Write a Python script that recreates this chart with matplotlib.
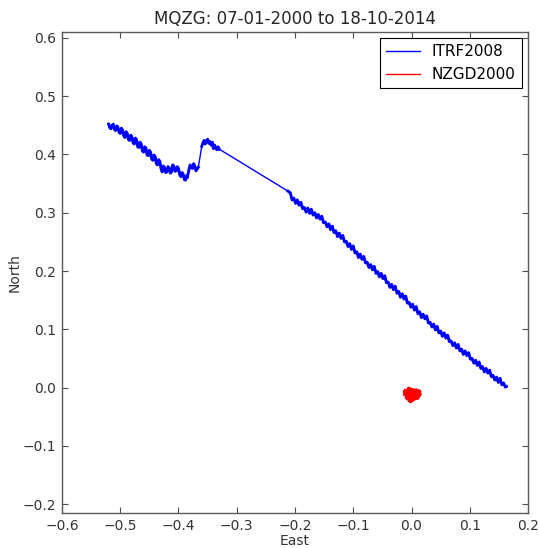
import matplotlib
matplotlib.use("Agg")
import matplotlib.pyplot as plt

title = "MQZG: 07-01-2000 to 18-10-2014"
itrf_label = "ITRF2008"
nzgd_label = "NZGD2000"

# ITRF2008 track (East, North)
itrf_east = [
    -0.520, -0.518, -0.516, -0.514, -0.512, -0.510, -0.508, -0.506, -0.504, -0.502,
    -0.500, -0.498, -0.496, -0.494, -0.492, -0.490, -0.488, -0.486, -0.484, -0.482,
    -0.480, -0.478, -0.476, -0.474, -0.472, -0.470, -0.468, -0.466, -0.464, -0.462,
    -0.460, -0.458, -0.456, -0.454, -0.452, -0.450, -0.448, -0.446, -0.444, -0.442,
    -0.440, -0.438, -0.436, -0.434, -0.432, -0.430, -0.428, -0.426, -0.424, -0.422,
    -0.420, -0.418, -0.416, -0.414, -0.412, -0.410, -0.408, -0.406, -0.404, -0.402,
    -0.400, -0.398, -0.396, -0.394, -0.392, -0.390, -0.388, -0.386, -0.385,
    -0.382, -0.380, -0.378, -0.376, -0.374, -0.372, -0.370, -0.368, -0.366,
    -0.360, -0.358, -0.356, -0.354, -0.352, -0.350, -0.348, -0.346, -0.344, -0.342,
    -0.340, -0.338, -0.336, -0.334, -0.332, -0.330,
    -0.212,
    -0.208, -0.205, -0.202, -0.199, -0.196, -0.193, -0.190, -0.187, -0.184, -0.181,
    -0.178, -0.175, -0.172, -0.169, -0.166, -0.163, -0.160, -0.157, -0.154, -0.151,
    -0.148, -0.145, -0.142, -0.139, -0.136, -0.133, -0.130, -0.127, -0.124, -0.121,
    -0.118, -0.115, -0.112, -0.109, -0.106, -0.103, -0.100, -0.097, -0.094, -0.091,
    -0.088, -0.085, -0.082, -0.079, -0.076, -0.073, -0.070, -0.067, -0.064, -0.061,
    -0.058, -0.055, -0.052, -0.049, -0.046, -0.043, -0.040, -0.037, -0.034, -0.031,
    -0.028, -0.025, -0.022, -0.019, -0.016, -0.013, -0.010, -0.007, -0.004, -0.001,
    0.002, 0.005, 0.008, 0.011, 0.014, 0.017, 0.020, 0.023, 0.026, 0.029,
    0.032, 0.035, 0.038, 0.041, 0.044, 0.047, 0.050, 0.053, 0.056, 0.059,
    0.062, 0.065, 0.068, 0.071, 0.074, 0.077, 0.080, 0.083, 0.086, 0.089,
    0.092, 0.095, 0.098, 0.101, 0.104, 0.107, 0.110, 0.113, 0.116, 0.119,
    0.122, 0.125, 0.128, 0.131, 0.134, 0.137, 0.140, 0.143, 0.146, 0.149,
    0.152, 0.155, 0.158, 0.161, 0.163,
]
itrf_north = [
    0.452, 0.446, 0.444, 0.450, 0.452, 0.443, 0.441, 0.449, 0.447, 0.438,
    0.436, 0.445, 0.442, 0.432, 0.429, 0.439, 0.436, 0.426, 0.424, 0.433,
    0.430, 0.420, 0.418, 0.428, 0.425, 0.413, 0.412, 0.421, 0.418, 0.406,
    0.404, 0.413, 0.411, 0.399, 0.398, 0.407, 0.404, 0.392, 0.390, 0.399,
    0.396, 0.384, 0.382, 0.391, 0.388, 0.376, 0.370, 0.380, 0.378, 0.369,
    0.370, 0.379, 0.377, 0.368, 0.370, 0.382, 0.380, 0.371, 0.372, 0.379,
    0.376, 0.366, 0.362, 0.369, 0.366, 0.357, 0.356, 0.364, 0.360,
    0.374, 0.382, 0.379, 0.376, 0.384, 0.380, 0.372, 0.375, 0.378,
    0.414, 0.420, 0.424, 0.418, 0.423, 0.426, 0.419, 0.422, 0.416, 0.421,
    0.410, 0.416, 0.411, 0.408, 0.413, 0.409,
    0.337,
    0.334, 0.322, 0.325, 0.316, 0.322, 0.313, 0.318, 0.307, 0.309, 0.301,
    0.308, 0.299, 0.306, 0.296, 0.300, 0.291, 0.297, 0.289, 0.294, 0.283,
    0.284, 0.276, 0.281, 0.271, 0.277, 0.266, 0.269, 0.259, 0.265, 0.256,
    0.261, 0.250, 0.251, 0.242, 0.247, 0.237, 0.243, 0.231, 0.233, 0.223,
    0.229, 0.220, 0.225, 0.214, 0.215, 0.206, 0.211, 0.202, 0.208, 0.196,
    0.199, 0.190, 0.196, 0.187, 0.192, 0.180, 0.181, 0.172, 0.177, 0.168,
    0.174, 0.162, 0.165, 0.155, 0.161, 0.152, 0.157, 0.145, 0.146, 0.138,
    0.143, 0.133, 0.139, 0.127, 0.130, 0.120, 0.126, 0.118, 0.123, 0.111,
    0.112, 0.104, 0.109, 0.099, 0.105, 0.094, 0.097, 0.088, 0.094, 0.085,
    0.090, 0.079, 0.080, 0.072, 0.077, 0.068, 0.074, 0.063, 0.066, 0.057,
    0.063, 0.055, 0.060, 0.049, 0.050, 0.042, 0.047, 0.038, 0.044, 0.033,
    0.036, 0.027, 0.033, 0.025, 0.030, 0.019, 0.021, 0.013, 0.018, 0.009,
    0.016, 0.005, 0.008, 0.001, 0.002,
]

# NZGD2000 cluster (East, North)
nzgd_east = [
    -0.010, 0.012, -0.012, 0.014, -0.006, 0.010, -0.009, 0.008, -0.004, 0.005,
    -0.011, 0.013, -0.002, 0.003, -0.008, 0.011, -0.005, 0.015, -0.012, 0.001,
    0.009, -0.007, 0.006, -0.003,
]
nzgd_north = [
    -0.005, -0.010, -0.012, -0.006, -0.003, -0.016, -0.017, -0.004, -0.022, -0.019,
    -0.009, -0.014, -0.024, -0.008, -0.014, -0.018, -0.001, -0.011, -0.006, -0.020,
    -0.007, -0.019, -0.013, -0.010,
]

x_ticks = [-0.6, -0.5, -0.4, -0.3, -0.2, -0.1, 0.0, 0.1, 0.2]
y_ticks = [-0.2, -0.1, 0.0, 0.1, 0.2, 0.3, 0.4, 0.5, 0.6]

plt.rcParams['font.family'] = ['DejaVu Sans']
fig = plt.figure(figsize=(5.4, 5.48), dpi=100, facecolor='white')
ax = fig.add_axes([0.1148, 0.0639, 0.863, 0.8777])

# whole track as a thin line (data gaps show as thin straight segments)
ax.plot(itrf_east, itrf_north, color='#0000ff', lw=1.0, label=itrf_label)
# densely sampled stretches (split where consecutive samples jump) drawn as a thicker noisy band
breaks = [0] + [i for i in range(1, len(itrf_east))
                if abs(itrf_east[i] - itrf_east[i - 1]) > 0.005
                or abs(itrf_north[i] - itrf_north[i - 1]) > 0.016] + [len(itrf_east)]
for a, b in zip(breaks[:-1], breaks[1:]):
    if b - a > 1:
        ax.plot(itrf_east[a:b], itrf_north[a:b], color='#0000ff', lw=2.1)

ax.plot(nzgd_east, nzgd_north, color='#ff0000', lw=2.4, label=nzgd_label)

ax.set_xlim(-0.6, 0.2)
ax.set_ylim(-0.215, 0.61)
ax.set_xticks(x_ticks)
ax.set_yticks(y_ticks)
ax.set_xticklabels([f"{v:.1f}".replace('-', '\u2212') for v in x_ticks])
ax.set_yticklabels([f"{v:.1f}".replace('-', '\u2212') for v in y_ticks])

ax.tick_params(direction='in', top=True, right=True, length=4, width=0.8,
               labelsize=10, colors='0.3', labelcolor='0.2', pad=4)
for s in ax.spines.values():
    s.set_color('0.35')
    s.set_linewidth(1.0)

ax.set_xlabel("East", fontsize=10, color='0.2', labelpad=1)
ax.set_ylabel("North", fontsize=10, color='0.2', labelpad=1)
ax.set_title(title, fontsize=12, color='0.15', pad=6)

leg = ax.legend(loc='upper right', fontsize=11, fancybox=False, framealpha=1,
                edgecolor='black', borderaxespad=0.4, handlelength=2.2)
leg.get_frame().set_linewidth(0.8)
for ln in leg.get_lines():
    ln.set_linewidth(1.0)

fig.savefig("out.png", dpi=100, facecolor='white')
